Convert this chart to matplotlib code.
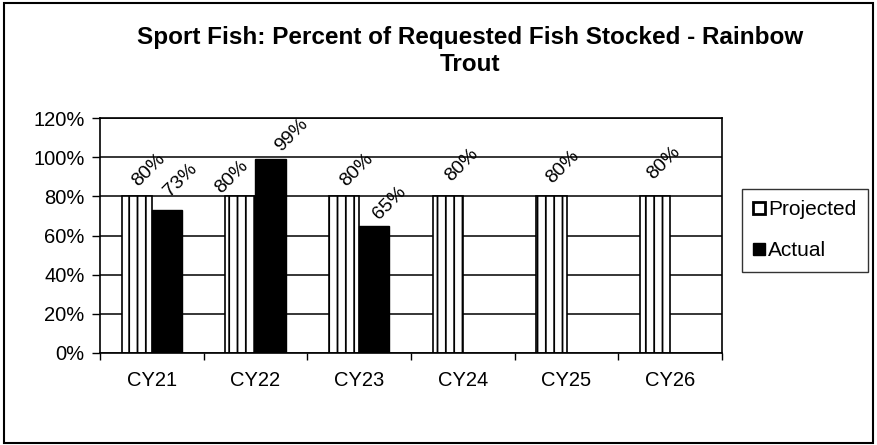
import matplotlib
matplotlib.use("Agg")
import matplotlib.pyplot as plt
from matplotlib.patches import Patch, Rectangle
import numpy as np

plt.rcParams['font.family'] = ['Liberation Sans', 'DejaVu Sans']
plt.rcParams['hatch.linewidth'] = 1.3

categories = ["CY21", "CY22", "CY23", "CY24", "CY25", "CY26"]
projected = [80, 80, 80, 80, 80, 80]
actual = [73, 99, 65, None, None, None]
y_ticks = [0, 20, 40, 60, 80, 100, 120]

# label nudges in pixels (dx, dy) from the top centre of each bar
proj_label_shift = [(12, 26), (-9, 19), (13, 26), (14, 31), (11, 29), (9, 33)]
act_label_shift = [(14, 30), (21, 24), (15, 23)]

fig = plt.figure(figsize=(8.77, 4.45), dpi=100)
ax = fig.add_axes([100 / 877, 1 - 353 / 445, 622 / 877, 235 / 445])

x = np.arange(len(categories))
w = 0.29

ax.set_axisbelow(True)
ax.yaxis.grid(True, color="black", linewidth=1.1)

proj_bars = ax.bar(x - w / 2, projected, w, facecolor="white", edgecolor="black",
                   linewidth=1.2, hatch="||")
act_x = [xi + w / 2 for xi, v in zip(x, actual) if v is not None]
act_v = [v for v in actual if v is not None]
act_bars = ax.bar(act_x, act_v, w, color="black", edgecolor="black", linewidth=1.0)

px = 0.72
for bar, v, (dx, dy) in zip(proj_bars, projected, proj_label_shift):
    ax.annotate(f"{v}%", (bar.get_x() + bar.get_width() / 2, v),
                xytext=(dx * px, dy * px), textcoords="offset points",
                rotation=45, ha="center", va="center", fontsize=14)
for bar, v, (dx, dy) in zip(act_bars, act_v, act_label_shift):
    ax.annotate(f"{v}%", (bar.get_x() + bar.get_width() / 2, v),
                xytext=(dx * px, dy * px), textcoords="offset points",
                rotation=45, ha="center", va="center", fontsize=14)

ax.set_xlim(-0.5, len(categories) - 0.5)
ax.set_ylim(0, 120)
ax.set_yticks(y_ticks)
ax.set_yticklabels([f"{t}%" for t in y_ticks], fontsize=14.5)
ax.set_xticks(x)
ax.set_xticklabels(categories, fontsize=14.5)
ax.tick_params(axis="x", length=0, pad=13)
ax.set_xticks(np.arange(-0.5, len(categories)), minor=True)
ax.tick_params(axis="x", which="minor", length=5, direction="out", width=1)
ax.tick_params(axis="y", length=6, direction="out", width=1, pad=5)
for s in ax.spines.values():
    s.set_linewidth(1.2)
    s.set_color("black")

handles = [Patch(facecolor="white", edgecolor="black", linewidth=2, label="Projected"),
           Patch(facecolor="black", edgecolor="black", label="Actual")]
leg = fig.legend(handles=handles, loc="upper left",
                 bbox_to_anchor=(742 / 877, 1 - 189 / 445),
                 frameon=True, fontsize=15, handlelength=0.55, handleheight=0.55,
                 handletextpad=0.15, labelspacing=1.05, borderpad=0.55,
                 borderaxespad=0, fancybox=False, edgecolor="black")
leg.get_frame().set_linewidth(1.0)

fig.text(470 / 877, 1 - 51 / 445,
         "Sport Fish: Percent of Requested Fish Stocked - Rainbow\nTrout",
         ha="center", va="center", fontsize=17.5, fontweight="bold", linespacing=1.2)

fig.patches.append(Rectangle((4 / 877, 2 / 445), 869 / 877, 440 / 445,
                             transform=fig.transFigure, fill=False,
                             edgecolor="black", linewidth=1.5))

fig.savefig("out.png", dpi=100)
